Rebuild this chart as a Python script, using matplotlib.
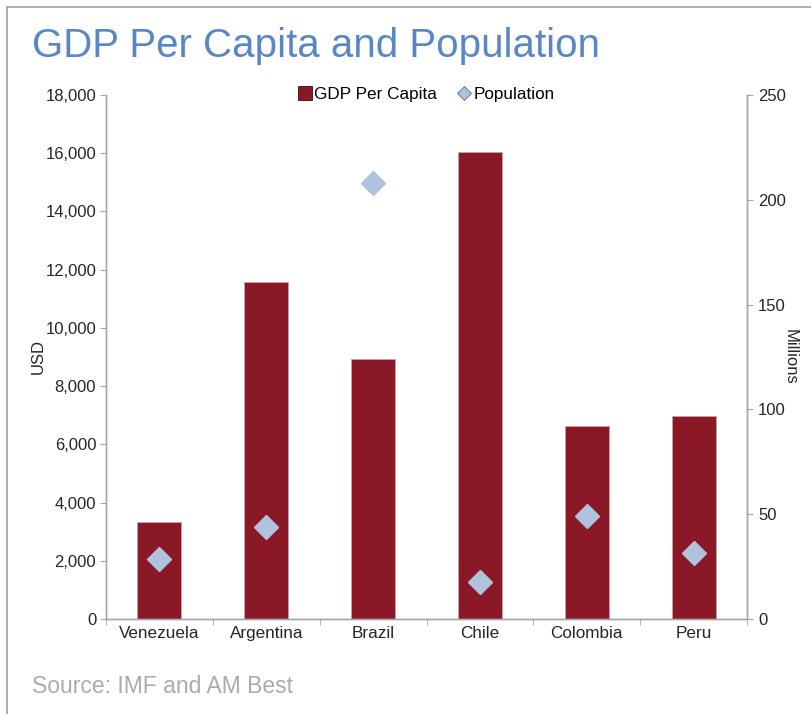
import matplotlib.pyplot as plt
import numpy as np
from matplotlib.patches import Rectangle
from matplotlib.lines import Line2D

plt.rcParams['font.family'] = ['Liberation Sans', 'DejaVu Sans']

countries = ['Venezuela', 'Argentina', 'Brazil', 'Chile', 'Colombia', 'Peru']
gdp_per_capita = [3340, 11580, 8930, 16050, 6630, 6970]
population = [28.5, 44.0, 208.0, 17.8, 49.1, 31.6]

bar_color = '#8B1826'
pop_color = '#AFC3DD'
axis_gray = '#A6A6A6'
text_dark = '#262626'
fs = 12

fig = plt.figure(figsize=(8.12, 7.14), dpi=100)
ax = fig.add_axes([0.1305, 0.1331, 0.7895, 0.7339])
ax2 = ax.twinx()

x = np.arange(len(countries))
ax.bar(x, gdp_per_capita, width=0.41, color=bar_color, edgecolor='#C9A0A6', linewidth=0.6, zorder=2)
ax2.plot(x, population, linestyle='none', marker='D', markersize=12,
         color=pop_color, markeredgecolor=pop_color, zorder=3)

ax.set_xlim(-0.5, len(countries) - 0.5)
ax.set_ylim(0, 18000)
ax2.set_ylim(0, 250)
ax.set_yticks(np.arange(0, 18001, 2000))
ax.set_yticklabels([f'{v:,}' for v in range(0, 18001, 2000)])
ax2.set_yticks(np.arange(0, 251, 50))

# categories sit between boundary ticks
ax.set_xticks(x)
ax.set_xticklabels(countries)
ax.set_xticks(np.arange(-0.5, len(countries)), minor=True)
ax.tick_params(axis='x', which='major', length=0, pad=5, labelsize=fs + 0.3, labelcolor=text_dark)
ax.tick_params(axis='x', which='minor', length=4, color=axis_gray, direction='out')
ax.tick_params(axis='y', length=4, color=axis_gray, labelsize=fs, labelcolor=text_dark, pad=3)
ax2.tick_params(axis='y', length=4, color=axis_gray, labelsize=fs, labelcolor=text_dark, pad=4)

for a in (ax, ax2):
    a.spines['top'].set_visible(False)
    for s in ('left', 'right', 'bottom'):
        a.spines[s].set_color(axis_gray)
        a.spines[s].set_linewidth(1.0)

ax.set_ylabel('USD', fontsize=fs, color=text_dark, labelpad=0)
ax2.set_ylabel('Millions', fontsize=fs, color=text_dark, rotation=-90, labelpad=8)

handles = [
    Line2D([], [], linestyle='none', marker='s', markersize=9.5, color=bar_color,
           markeredgecolor='#3a0a10', markeredgewidth=0.6),
    Line2D([], [], linestyle='none', marker='D', markersize=7, color=pop_color,
           markeredgecolor='#5a6a80', markeredgewidth=0.6),
]
ax.legend(handles, ['GDP Per Capita', 'Population'], loc='upper center',
          bbox_to_anchor=(0.5, 1.045), ncol=2, frameon=False, fontsize=fs + 0.3,
          handlelength=0.8, handletextpad=0.15, columnspacing=1.2)

fig.text(0.04, 0.935, 'GDP Per Capita and Population', fontsize=29,
         color='#5B86C5', va='center', ha='left')
fig.text(0.04, 0.039, 'Source: IMF and AM Best', fontsize=16.5,
         color='#ABABAB', va='center', ha='left')

# thin border around the panel
fig.patches.append(Rectangle((7 / 812, -0.05), 1.2, 1 - 7 / 714 + 0.05,
                             transform=fig.transFigure, fill=False,
                             edgecolor='#A0A0A0', linewidth=1.2))

fig.savefig('out.png', dpi=100)
